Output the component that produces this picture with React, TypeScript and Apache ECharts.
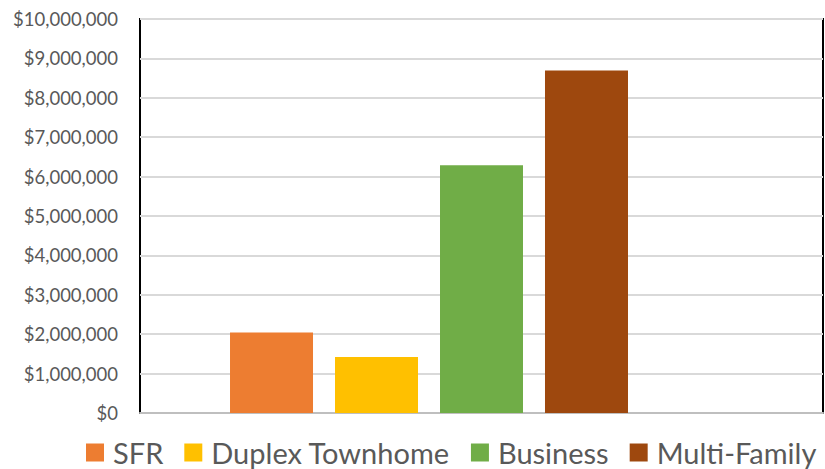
import React, { useEffect, useRef } from "react";
import * as echarts from "echarts";

const categories = ["Total"];
const seriesNames = ["SFR", "Duplex Townhome", "Business", "Multi-Family", ""];
const seriesValues: (number | null)[] = [2040000, 1420000, 6290000, 8690000, null];
const seriesColors = ["#ED7D31", "#FFC000", "#70AD47", "#9E480E", "#264478"];
const yTicks = { min: 0, max: 10000000, interval: 1000000 };

const fontFamily = "Lato, 'Noto Sans', sans-serif";

export default function App() {
  const ref = useRef<HTMLDivElement>(null);
  useEffect(() => {
    document.body.style.margin = "0";
    if (!ref.current) return;
    const chart = echarts.init(ref.current, undefined, { renderer: "svg" });
    chart.setOption({
      animation: false,
      backgroundColor: "#ffffff",
      grid: {
        left: 140,
        right: 2,
        top: 19,
        bottom: 56,
        show: true,
        borderColor: "#000000",
        borderWidth: 2,
        containLabel: false,
      },
      legend: {
        top: 433,
        left: 81,
        data: seriesNames.slice(0, 4),
        icon: "rect",
        itemWidth: 18,
        itemHeight: 18,
        itemGap: 21,
        textStyle: { fontSize: 29, color: "#595959", fontFamily, padding: [0, 0, 0, 4] },
      },
      xAxis: {
        type: "category",
        data: categories,
        axisLine: { show: true, lineStyle: { color: "#BFBFBF", width: 2 } },
        axisTick: { show: false },
        axisLabel: { show: false },
      },
      yAxis: {
        type: "value",
        min: yTicks.min,
        max: yTicks.max,
        interval: yTicks.interval,
        axisLine: { show: false },
        axisTick: { show: false },
        splitLine: { lineStyle: { color: "#D9D9D9", width: 2 } },
        axisLabel: {
          color: "#595959",
          fontSize: 18.5,
          fontFamily,
          margin: 22,
          formatter: (v: number) => "$" + v.toLocaleString("en-US"),
        },
      },
      series: seriesNames.map((name, i) => ({
        name,
        type: "bar",
        data: [seriesValues[i]],
        barWidth: 83,
        barGap: "26.5%",
        itemStyle: { color: seriesColors[i] },
      })),
    });
    return () => chart.dispose();
  }, []);
  return <div ref={ref} style={{ width: 825, height: 469 }} />;
}
